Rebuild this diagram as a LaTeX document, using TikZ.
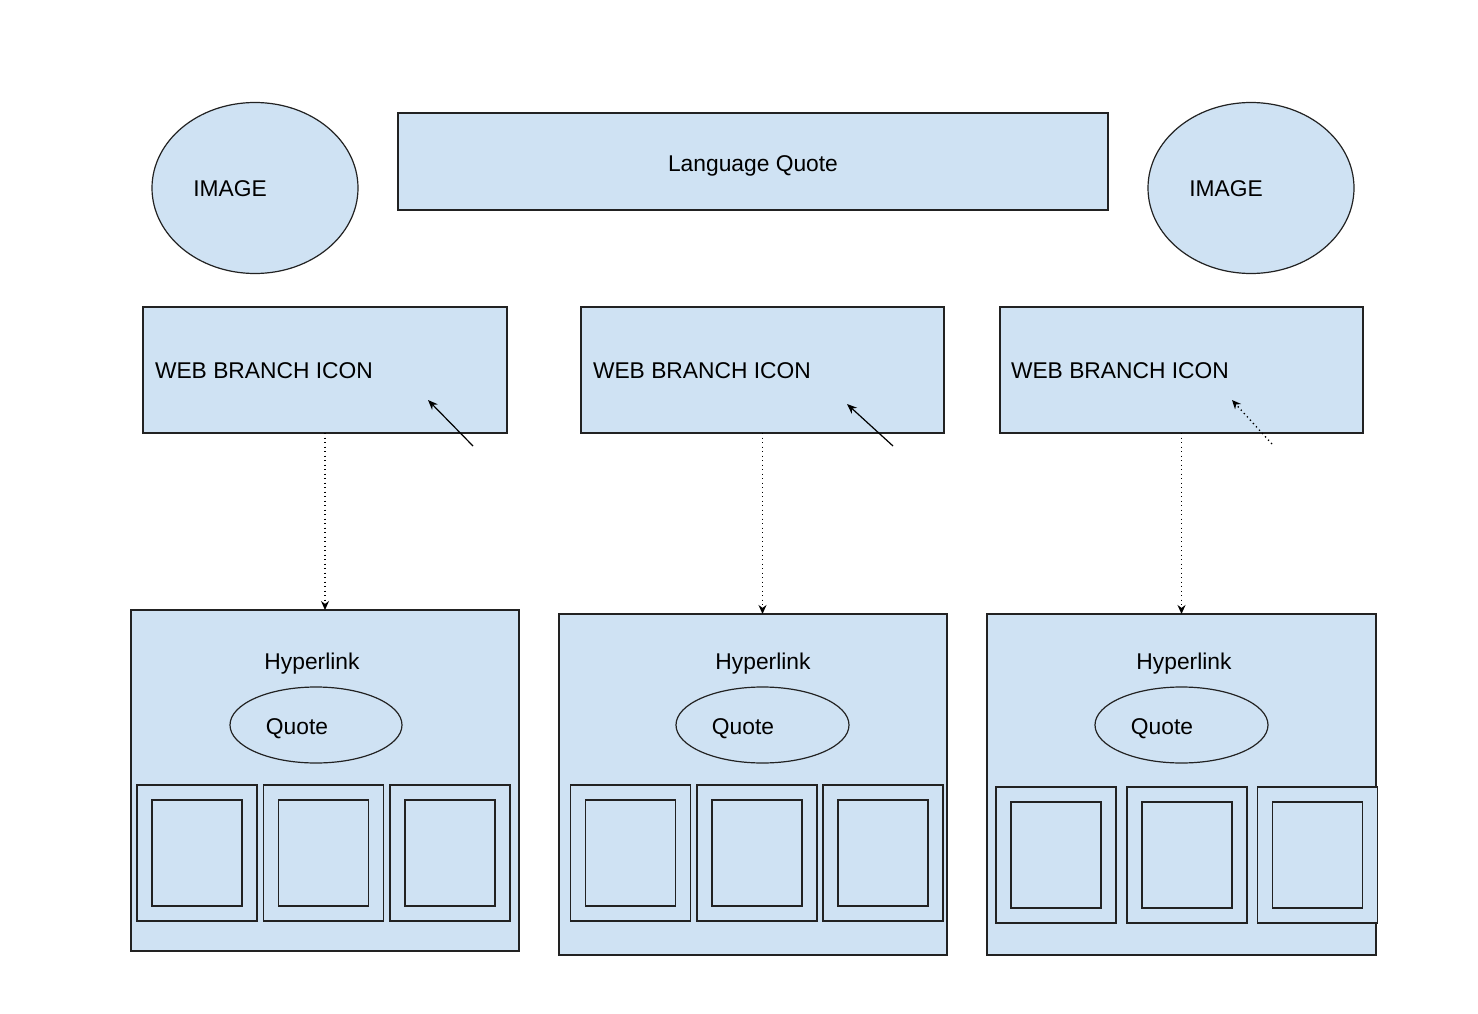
\documentclass[tikz,border=0pt]{standalone}
\usepackage{fontspec}
\setmainfont{Liberation Sans}
\usetikzlibrary{arrows.meta,shapes.geometric}
\definecolor{fillblue}{HTML}{CFE2F3}
\definecolor{edge}{HTML}{222222}
\begin{document}
\begin{tikzpicture}[x=1pt,y=-1pt,
  every node/.style={inner sep=0pt,outer sep=0pt},
  shapebox/.style={draw=edge,fill=fillblue,line width=1.3pt,rectangle},
  oval/.style={draw=edge,fill=fillblue,line width=1.2pt,ellipse},
  txt/.style={font=\fontsize{22.8}{27}\selectfont,text=black},
  tip/.style={-{Stealth[length=10pt,width=8pt]},line width=1.2pt},
  dotline/.style={-{Stealth[length=9pt,width=8pt]},line width=1.3pt,dash pattern=on 1.3pt off 3.2pt}]
\useasboundingbox (0,0) rectangle (1478,1014);
\fill[white] (0,0) rectangle (1478,1014);

% top row
\node[oval,minimum width=206pt,minimum height=171pt] (img1) at (255,188) {};
\node[txt] (img1t) at (230,189) {IMAGE};
\node[shapebox,minimum width=710pt,minimum height=97pt] (lang) at (753,161.5) {};
\node[txt] (langt) at (753,166) {Language Quote};
\node[oval,minimum width=206pt,minimum height=171pt] (img2) at (1251,188) {};
\node[txt] (img2t) at (1226,189) {IMAGE};

% web branch boxes
\node[shapebox,minimum width=364pt,minimum height=126pt] (w1) at (325,370) {};
\node[txt,anchor=west] (w1t) at (155,371) {WEB BRANCH ICON};
\node[shapebox,minimum width=363pt,minimum height=126pt] (w2) at (762.5,370) {};
\node[txt,anchor=west] (w2t) at (593,371) {WEB BRANCH ICON};
\node[shapebox,minimum width=363pt,minimum height=126pt] (w3) at (1181.5,370) {};
\node[txt,anchor=west] (w3t) at (1011,371) {WEB BRANCH ICON};

% diagonal arrows
\coordinate (a1s) at (473,446); \coordinate (a1e) at (428,400);
\coordinate (a2s) at (893,446); \coordinate (a2e) at (847,404);
\coordinate (a3s) at (1272,444); \coordinate (a3e) at (1232,400);
\draw[tip] (a1s) -- (a1e);
\draw[tip] (a2s) -- (a2e);
\draw[dotline] (a3s) -- (a3e);

% bottom boxes
\node[shapebox,minimum width=388pt,minimum height=341pt] (b1) at (325,780.5) {};
\node[shapebox,minimum width=388pt,minimum height=341pt] (b2) at (753,784.5) {};
\node[shapebox,minimum width=389pt,minimum height=341pt] (b3) at (1181.5,784.5) {};

% vertical dotted connectors
\draw[dotline] (w1.south) -- (w1.south |- b1.north);
\draw[dotline] (w2.south) -- (w2.south |- b2.north);
\draw[dotline] (w3.south) -- (w3.south |- b3.north);

% hyperlink + quote
\node[txt] (h1) at (312,664) {Hyperlink};
\node[txt] (h2) at (763,664) {Hyperlink};
\node[txt] (h3) at (1184,664) {Hyperlink};
\node[oval,minimum width=172pt,minimum height=76pt] (q1) at (316,725) {};
\node[txt] (q1t) at (297,729) {Quote};
\node[oval,minimum width=173pt,minimum height=76pt] (q2) at (762.5,725) {};
\node[txt] (q2t) at (743,729) {Quote};
\node[oval,minimum width=173pt,minimum height=76pt] (q3) at (1181.5,725) {};
\node[txt] (q3t) at (1162,729) {Quote};

% squares
\foreach \n/\x/\y in {s11/197/853, s12/323.5/853, s13/450/853,
                      s21/630.5/853, s22/757/853, s23/883/853,
                      s31/1056/855, s32/1187/855, s33/1317.5/855}{
  \node[shapebox,minimum width=120pt,minimum height=136pt] (\n o) at (\x,\y) {};
  \node[shapebox,minimum width=90pt,minimum height=106pt] (\n i) at (\n o.center) {};
}
\end{tikzpicture}
\end{document}
